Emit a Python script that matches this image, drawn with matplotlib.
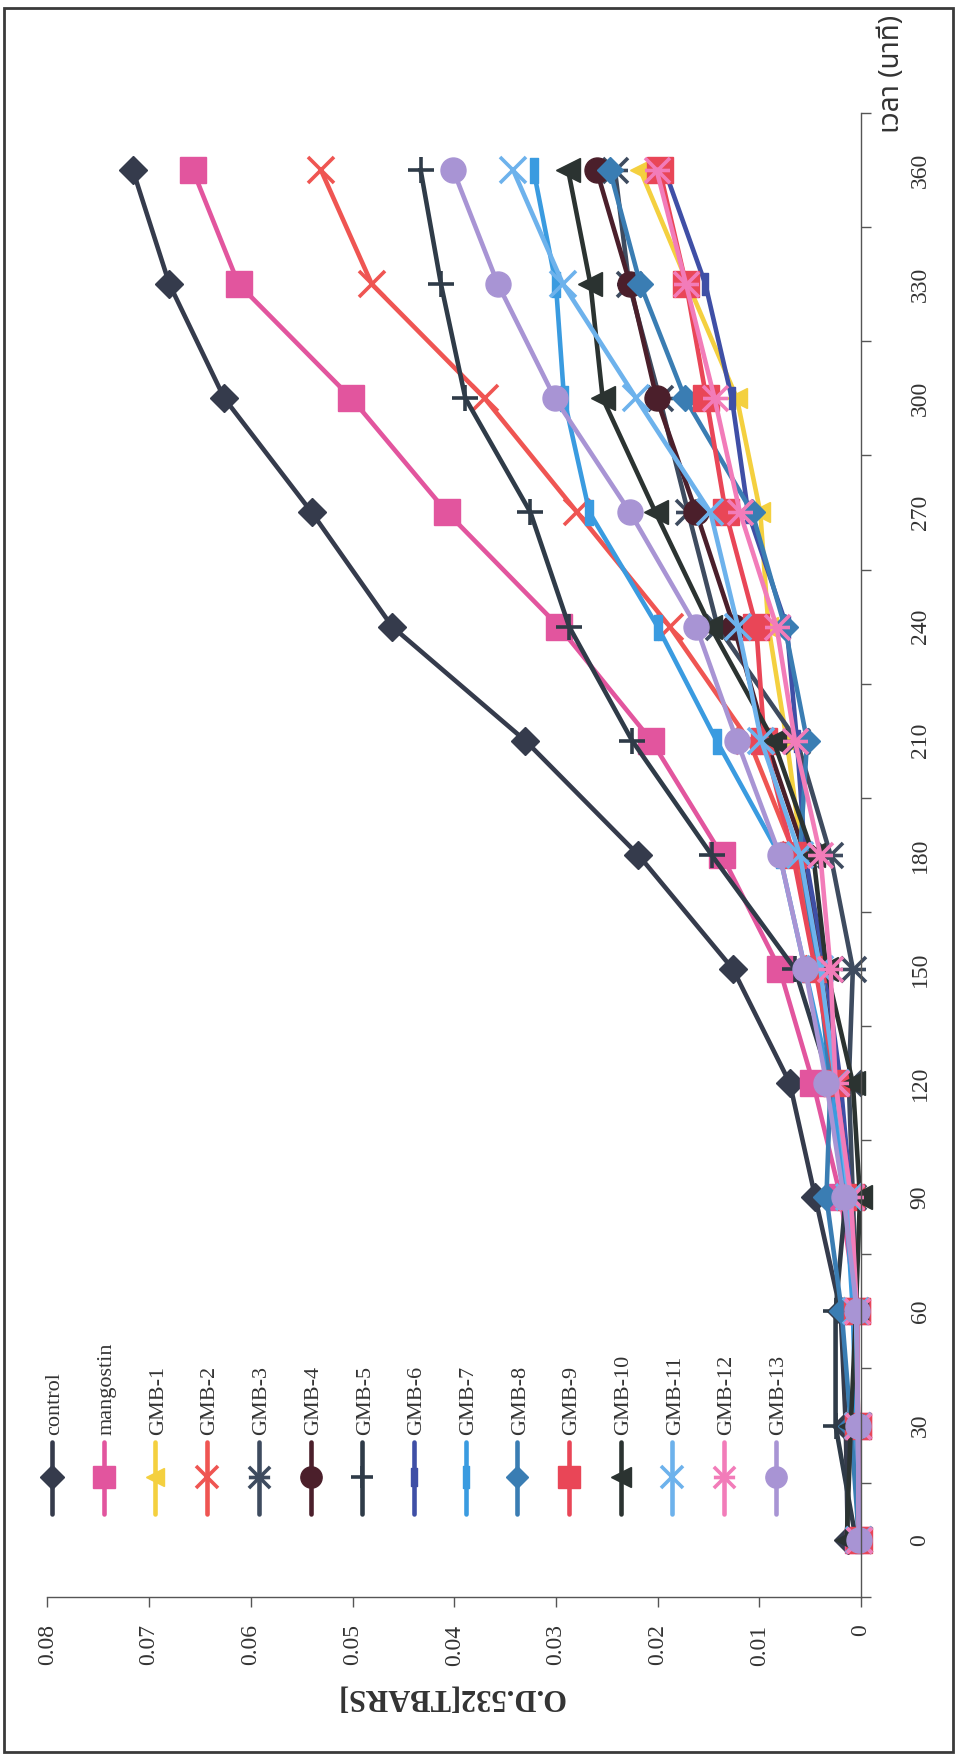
import matplotlib
matplotlib.use('Agg')
import matplotlib.pyplot as plt
import numpy as np
from matplotlib.path import Path
from matplotlib.lines import Line2D
from matplotlib.patches import Rectangle

plt.rcParams['font.family'] = ['Liberation Serif', 'DejaVu Sans']

# ---------------- data ----------------
time_min = [0, 30, 60, 90, 120, 150, 180, 210, 240, 270, 300, 330, 360]
time_labels = ['0', '30', '60', '90', '120', '150', '180', '210', '240', '270', '300', '330', '360']
od_ticks = [0.0, 0.01, 0.02, 0.03, 0.04, 0.05, 0.06, 0.07, 0.08]
od_labels = ['0', '0.01', '0.02', '0.03', '0.04', '0.05', '0.06', '0.07', '0.08']

series_names = ['control', 'mangostin', 'GMB-1', 'GMB-2', 'GMB-3', 'GMB-4', 'GMB-5',
                'GMB-6', 'GMB-7', 'GMB-8', 'GMB-9', 'GMB-10', 'GMB-11', 'GMB-12', 'GMB-13']

control = [0.0013, 0.0015, 0.0020, 0.0045, 0.0070, 0.0126, 0.0219, 0.0330, 0.0461, 0.0540, 0.0626, 0.0680, 0.0716]
mangostin = [0.0003, 0.0003, 0.0004, 0.0020, 0.0047, 0.0080, 0.0137, 0.0206, 0.0297, 0.0407, 0.0501, 0.0612, 0.0657]
gmb1 = [0.0002, 0.0003, 0.0005, 0.0010, 0.0022, 0.0040, 0.0058, 0.0073, 0.0091, 0.0099, 0.0122, 0.0170, 0.0217]
gmb2 = [0.0002, 0.0003, 0.0005, 0.0012, 0.0025, 0.0042, 0.0065, 0.0110, 0.0188, 0.0279, 0.0370, 0.0481, 0.0531]
gmb3 = [0.0002, 0.0003, 0.0004, 0.0008, 0.0012, 0.0008, 0.0030, 0.0063, 0.0141, 0.0170, 0.0198, 0.0228, 0.0242]
gmb4 = [0.0002, 0.0003, 0.0005, 0.0010, 0.0022, 0.0040, 0.0055, 0.0093, 0.0125, 0.0162, 0.0201, 0.0227, 0.0260]
gmb5 = [0.0005, 0.0025, 0.0025, 0.0015, 0.0030, 0.0065, 0.0147, 0.0225, 0.0287, 0.0325, 0.0389, 0.0413, 0.0433]
gmb6 = [0.0002, 0.0003, 0.0005, 0.0010, 0.0020, 0.0035, 0.0055, 0.0063, 0.0073, 0.0111, 0.0127, 0.0153, 0.0193]
gmb7 = [0.0002, 0.0005, 0.0008, 0.0015, 0.0030, 0.0055, 0.0080, 0.0142, 0.0200, 0.0267, 0.0292, 0.0300, 0.0322]
gmb8 = [0.0002, 0.0010, 0.0019, 0.0034, 0.0030, 0.0042, 0.0060, 0.0053, 0.0075, 0.0107, 0.0173, 0.0217, 0.0247]
gmb9 = [0.0002, 0.0003, 0.0004, 0.0010, 0.0025, 0.0045, 0.0067, 0.0095, 0.0103, 0.0133, 0.0152, 0.0172, 0.0198]
gmb10 = [0.0014, 0.0010, 0.0005, 0.0001, 0.0008, 0.0034, 0.0047, 0.0086, 0.0148, 0.0202, 0.0254, 0.0266, 0.0288]
gmb11 = [0.0002, 0.0003, 0.0005, 0.0012, 0.0025, 0.0040, 0.0060, 0.0098, 0.0121, 0.0148, 0.0221, 0.0293, 0.0342]
gmb12 = [0.0002, 0.0003, 0.0004, 0.0010, 0.0025, 0.0030, 0.0040, 0.0065, 0.0083, 0.0119, 0.0144, 0.0172, 0.0201]
gmb13 = [0.0002, 0.0003, 0.0004, 0.0017, 0.0034, 0.0055, 0.0080, 0.0122, 0.0162, 0.0227, 0.0301, 0.0357, 0.0401]

series_values = [control, mangostin, gmb1, gmb2, gmb3, gmb4, gmb5, gmb6, gmb7,
                 gmb8, gmb9, gmb10, gmb11, gmb12, gmb13]

# ---------------- styles ----------------
FW, FH = 959, 1754
fig = plt.figure(figsize=(FW / 100, FH / 100), dpi=100)

def fx(px):
    return px / FW

def fy(py):
    return 1 - py / FH

star_path = Path([(-0.5, -0.5), (0.5, 0.5), (-0.5, 0.5), (0.5, -0.5), (-0.5, 0.0), (0.5, 0.0)],
                 [Path.MOVETO, Path.LINETO, Path.MOVETO, Path.LINETO, Path.MOVETO, Path.LINETO])
bar_path = Path([(-0.15, -0.5), (0.15, -0.5), (0.15, 0.5), (-0.15, 0.5), (-0.15, -0.5)],
                [Path.MOVETO, Path.LINETO, Path.LINETO, Path.LINETO, Path.CLOSEPOLY])

colors = ['#353b4c', '#e2559e', '#f4d03f', '#ef5552', '#3e4b5f', '#4b1f2b', '#2f3b48',
          '#3f4fa6', '#3a9be0', '#3a7db3', '#e94657', '#2b3331', '#6db2ec', '#f27cb9', '#a894d4']
markers = ['D', 's', '<', 'x', star_path, 'o', '+', bar_path, bar_path, 'D', 's', '<', 'x', star_path, 'o']
msizes = [14, 19, 15, 19, 18, 18, 19, 16, 18, 13, 19, 17, 19, 18, 18]
filled = [True, True, True, False, False, True, False, True, True, True, True, True, False, False, True]

L, R = 47.4, 861.0
T, B = 113.0, 1596.7
ax = fig.add_axes([fx(L), fy(B), fx(R) - fx(L), fy(T) - fy(B)])
ax.set_xlim(0.08, 0.0)
ax.set_ylim(-15, 375)
ax.patch.set_alpha(0)

for name, vals, c, m, ms, f in zip(series_names, series_values, colors, markers, msizes, filled):
    kw = dict(color=c, lw=3.3, marker=m, markersize=ms, solid_joinstyle='round', clip_on=False)
    if f:
        kw.update(markerfacecolor=c, markeredgecolor=c, markeredgewidth=1)
    else:
        kw.update(markeredgecolor=c, markeredgewidth=2.6)
    ax.plot(vals, time_min, **kw)

for s in ['left', 'top']:
    ax.spines[s].set_visible(False)
for s in ['right', 'bottom']:
    ax.spines[s].set_color('#555555')
    ax.spines[s].set_linewidth(1.0)

ax.set_xticks(od_ticks)
ax.set_xticklabels(od_labels, rotation=90, fontsize=17, color='#333333')
ax.tick_params(axis='x', direction='out', length=7, width=1, color='#555555', pad=13)

ax.yaxis.set_ticks_position('right')
ax.set_yticks(time_min)
ax.set_yticklabels(time_labels, rotation=90, va='center', fontsize=17, color='#333333')
ax.set_yticks(np.arange(-15, 376, 30), minor=True)
ax.tick_params(axis='y', which='major', length=0, pad=35)
ax.tick_params(axis='y', which='minor', direction='out', length=7, width=1, color='#555555')

# axis titles
fig.text(fx(450), fy(1697), 'O.D.532[TBARS]', rotation=180, ha='center', va='center',
         fontsize=22, fontweight='bold', color='#333333')
fig.text(fx(892), fy(74), 'เวลา (นาที)', rotation=90, ha='center', va='center',
         fontsize=20, color='#333333',
         family=['Noto Sans Thai', 'Loma', 'Garuda', 'Tlwg Typo', 'DejaVu Sans', 'Liberation Serif'])

# legend (vertical entries)
for i, (name, c, m, ms, f) in enumerate(zip(series_names, colors, markers, msizes, filled)):
    x = 52 + i * 51.7
    fig.add_artist(Line2D([fx(x), fx(x)], [fy(1442), fy(1514)], transform=fig.transFigure,
                          color=c, lw=3.3, solid_capstyle='round'))
    kw = dict(marker=m, markersize=ms * 0.85, linestyle='none', transform=fig.transFigure)
    if f:
        kw.update(markerfacecolor=c, markeredgecolor=c, markeredgewidth=1)
    else:
        kw.update(markerfacecolor='none', markeredgecolor=c, markeredgewidth=2.6)
    fig.add_artist(Line2D([fx(x)], [fy(1477)], **kw))
    fig.text(fx(x + 3), fy(1435), name, rotation=90, ha='center', va='bottom',
             fontsize=16, color='#333333')

# outer frame
fig.add_artist(Rectangle((fx(4), fy(1752)), fx(953) - fx(4), fy(8) - fy(1752),
                         transform=fig.transFigure, fill=False, edgecolor='#3a3a3a', lw=2))

fig.savefig('out.png', dpi=100)
